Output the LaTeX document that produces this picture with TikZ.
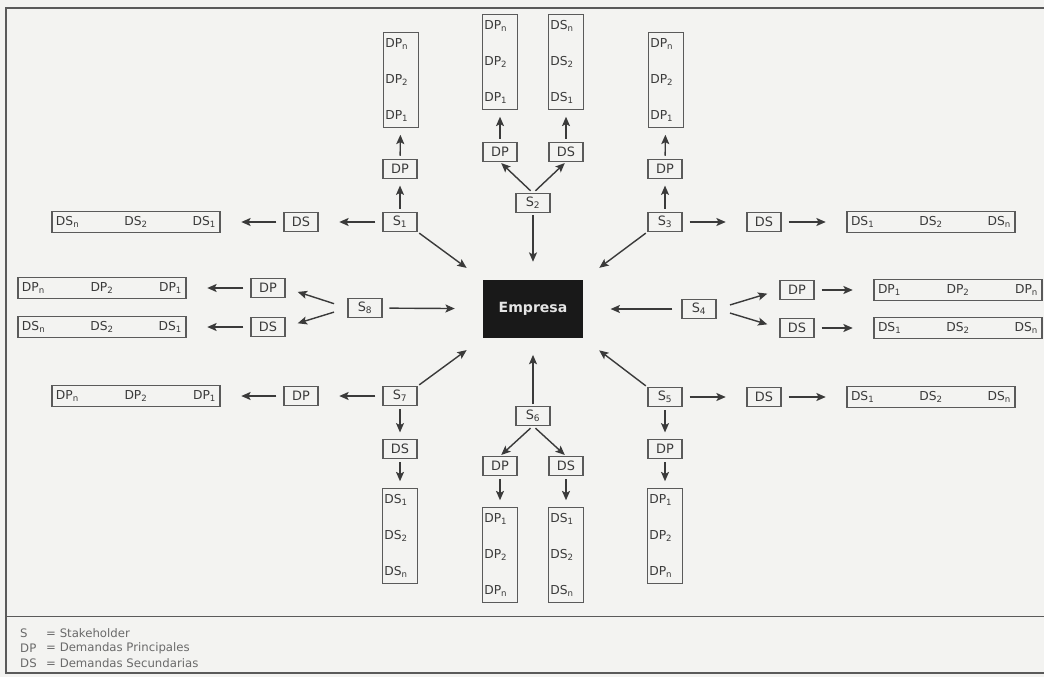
\documentclass[tikz,border=0pt]{standalone}
\usepackage{fontspec}
\setmainfont{DejaVu Sans}
\usepackage{tikz}
\usetikzlibrary{arrows.meta,positioning}
\usepackage{xcolor}

\definecolor{paper}{HTML}{F3F3F1}
\definecolor{ink}{HTML}{3A3A3A}
\definecolor{frameink}{HTML}{5A5A5A}
\definecolor{legendink}{HTML}{6A6A6A}

\begin{document}
\begin{tikzpicture}[
    x=0.03cm, y=-0.03cm,
    >={Stealth[length=2.8mm,width=2.4mm,inset=0.6mm]},
    box/.style={draw=frameink, line width=1pt, text=ink, inner sep=1pt,
        font=\fontsize{11}{13}\selectfont, minimum width=1.02cm, minimum height=0.56cm},
    vlist/.style={box, minimum width=1.05cm, minimum height=2.85cm, align=left,
        text width=0.94cm, font=\fontsize{10.5}{31}\selectfont},
    hlist/.style={box, minimum width=5.04cm, minimum height=0.63cm, text width=4.8cm,
        font=\fontsize{10.5}{13}\selectfont},
    core/.style={fill=black!90, text=white!90!black, font=\fontsize{12}{14}\selectfont\bfseries,
        minimum width=3cm, minimum height=1.74cm},
    arrow/.style={->, ink, line width=1.2pt},
    varrow/.style={arrow, shorten <=0.1cm, shorten >=0.2cm},
    harrow/.style={arrow, shorten <=0.21cm, shorten >=0.62cm},
    sarrow/.style={arrow, shorten <=0.42cm, shorten >=0.38cm},
    into/.style={arrow, shorten <=0.06cm, shorten >=0.6cm},
    legend/.style={anchor=west, text=legendink, inner sep=0pt, font=\fontsize{10}{12}\selectfont},
]
    % paper and frame
    \fill[paper] (0,0) rectangle (1044,677);
    \useasboundingbox (0,0) rectangle (1044,677);
    \draw[frameink, line width=1pt] (1050,8) -- (6,8) -- (6,673) -- (1050,673);
    \draw[frameink, line width=0.8pt] (6,616) -- (1050,616);

    % Centre
    \node[core] (emp) at (533,309) {Empresa};

    % S1: top left
    \node[box] (s1) at (400,222) {S\textsubscript{1}};
    \node[box] (s1dp) at (400,169) {DP};
    \node[vlist] (s1dpl) at (401,80) {DP\textsubscript{n}\\DP\textsubscript{2}\\DP\textsubscript{1}};
    \node[box] (s1ds) at (301,222) {DS};
    \node[hlist] (s1dsl) at (136,222) {DS\textsubscript{n}\hfill DS\textsubscript{2}\hfill DS\textsubscript{1}};
    \draw[varrow] (s1) -- (s1dp);
    \draw[varrow] (s1dp) -- (s1dpl);
    \draw[harrow] (s1) -- (s1ds);
    \draw[harrow] (s1ds) -- (s1dsl);
    \draw[into] (s1.south east) -- (emp.north west);

    % S2: top
    \node[box] (s2) at (533,203) {S\textsubscript{2}};
    \node[box] (s2dp) at (500,152) {DP};
    \node[box] (s2ds) at (566,152) {DS};
    \node[vlist] (s2dpl) at (500,62) {DP\textsubscript{n}\\DP\textsubscript{2}\\DP\textsubscript{1}};
    \node[vlist] (s2dsl) at (566,62) {DS\textsubscript{n}\\DS\textsubscript{2}\\DS\textsubscript{1}};
    \draw[arrow, shorten <=0.1cm, shorten >=0.05cm] (s2.north) -- (s2dp.south);
    \draw[arrow, shorten <=0.1cm, shorten >=0.05cm] (s2.north) -- (s2ds.south);
    \draw[varrow] (s2dp) -- (s2dpl);
    \draw[varrow] (s2ds) -- (s2dsl);
    \draw[into, shorten >=0.54cm] (s2) -- (emp);

    % S3: top right
    \node[box] (s3) at (665,222) {S\textsubscript{3}};
    \node[box] (s3dp) at (665,169) {DP};
    \node[vlist] (s3dpl) at (666,80) {DP\textsubscript{n}\\DP\textsubscript{2}\\DP\textsubscript{1}};
    \node[box] (s3ds) at (764,222) {DS};
    \node[hlist] (s3dsl) at (931,222) {DS\textsubscript{1}\hfill DS\textsubscript{2}\hfill DS\textsubscript{n}};
    \draw[varrow] (s3) -- (s3dp);
    \draw[varrow] (s3dp) -- (s3dpl);
    \draw[harrow] (s3) -- (s3ds);
    \draw[harrow] (s3ds) -- (s3dsl);
    \draw[into] (s3.south west) -- (emp.north east);

    % S4: right
    \node[box] (s4) at (699,309) {S\textsubscript{4}};
    \node[box] (s4dp) at (797,290) {DP};
    \node[box] (s4ds) at (797,328) {DS};
    \node[hlist] (s4dpl) at (958,290) {DP\textsubscript{1}\hfill DP\textsubscript{2}\hfill DP\textsubscript{n}};
    \node[hlist] (s4dsl) at (958,328) {DS\textsubscript{1}\hfill DS\textsubscript{2}\hfill DS\textsubscript{n}};
    \draw[sarrow] (s4.east) -- (s4dp.west);
    \draw[sarrow] (s4.east) -- (s4ds.west);
    \draw[harrow] (s4dp) -- (s4dpl);
    \draw[harrow] (s4ds) -- (s4dsl);
    \draw[into, shorten <=0.27cm, shorten >=0.82cm] (s4) -- (emp);

    % S5: bottom right
    \node[box] (s5) at (665,397) {S\textsubscript{5}};
    \node[box] (s5ds) at (764,397) {DS};
    \node[hlist] (s5dsl) at (931,397) {DS\textsubscript{1}\hfill DS\textsubscript{2}\hfill DS\textsubscript{n}};
    \node[box] (s5dp) at (665,449) {DP};
    \node[vlist] (s5dpl) at (665,536) {DP\textsubscript{1}\\DP\textsubscript{2}\\DP\textsubscript{n}};
    \draw[harrow] (s5) -- (s5ds);
    \draw[harrow] (s5ds) -- (s5dsl);
    \draw[varrow] (s5) -- (s5dp);
    \draw[varrow] (s5dp) -- (s5dpl);
    \draw[into] (s5.north west) -- (emp.south east);

    % S6: bottom
    \node[box] (s6) at (533,416) {S\textsubscript{6}};
    \node[box] (s6dp) at (500,466) {DP};
    \node[box] (s6ds) at (566,466) {DS};
    \node[vlist] (s6dpl) at (500,555) {DP\textsubscript{1}\\DP\textsubscript{2}\\DP\textsubscript{n}};
    \node[vlist] (s6dsl) at (566,555) {DS\textsubscript{1}\\DS\textsubscript{2}\\DS\textsubscript{n}};
    \draw[arrow, shorten <=0.1cm, shorten >=0.05cm] (s6.south) -- (s6dp.north);
    \draw[arrow, shorten <=0.1cm, shorten >=0.05cm] (s6.south) -- (s6ds.north);
    \draw[varrow] (s6dp) -- (s6dpl);
    \draw[varrow] (s6ds) -- (s6dsl);
    \draw[into, shorten >=0.5cm] (s6) -- (emp);

    % S7: bottom left
    \node[box] (s7) at (400,396) {S\textsubscript{7}};
    \node[box] (s7dp) at (301,396) {DP};
    \node[hlist] (s7dpl) at (136,396) {DP\textsubscript{n}\hfill DP\textsubscript{2}\hfill DP\textsubscript{1}};
    \node[box] (s7ds) at (400,449) {DS};
    \node[vlist] (s7dsl) at (400,536) {DS\textsubscript{1}\\DS\textsubscript{2}\\DS\textsubscript{n}};
    \draw[harrow] (s7) -- (s7dp);
    \draw[harrow] (s7dp) -- (s7dpl);
    \draw[varrow] (s7) -- (s7ds);
    \draw[varrow] (s7ds) -- (s7dsl);
    \draw[into] (s7.north east) -- (emp.south west);

    % S8: left
    \node[box] (s8) at (365,308) {S\textsubscript{8}};
    \node[box] (s8dp) at (268,288) {DP};
    \node[box] (s8ds) at (268,327) {DS};
    \node[hlist] (s8dpl) at (102,288) {DP\textsubscript{n}\hfill DP\textsubscript{2}\hfill DP\textsubscript{1}};
    \node[hlist] (s8dsl) at (102,327) {DS\textsubscript{n}\hfill DS\textsubscript{2}\hfill DS\textsubscript{1}};
    \draw[sarrow] (s8.west) -- (s8dp.east);
    \draw[sarrow] (s8.west) -- (s8ds.east);
    \draw[harrow] (s8dp) -- (s8dpl);
    \draw[harrow] (s8ds) -- (s8dsl);
    \draw[into, shorten <=0.2cm, shorten >=0.84cm] (s8) -- (emp);

    % Legend
    \node[legend] (ks) at (20,633) {S};
    \node[legend] (kdp) at (20,648) {DP};
    \node[legend] (kds) at (20,663) {DS};
    \node[legend] (ksv) at (46,633) {= Stakeholder};
    \node[legend] (kdpv) at (46,648) {= Demandas Principales};
    \node[legend] (kdsv) at (46,663) {= Demandas Secundarias};
\end{tikzpicture}
\end{document}
